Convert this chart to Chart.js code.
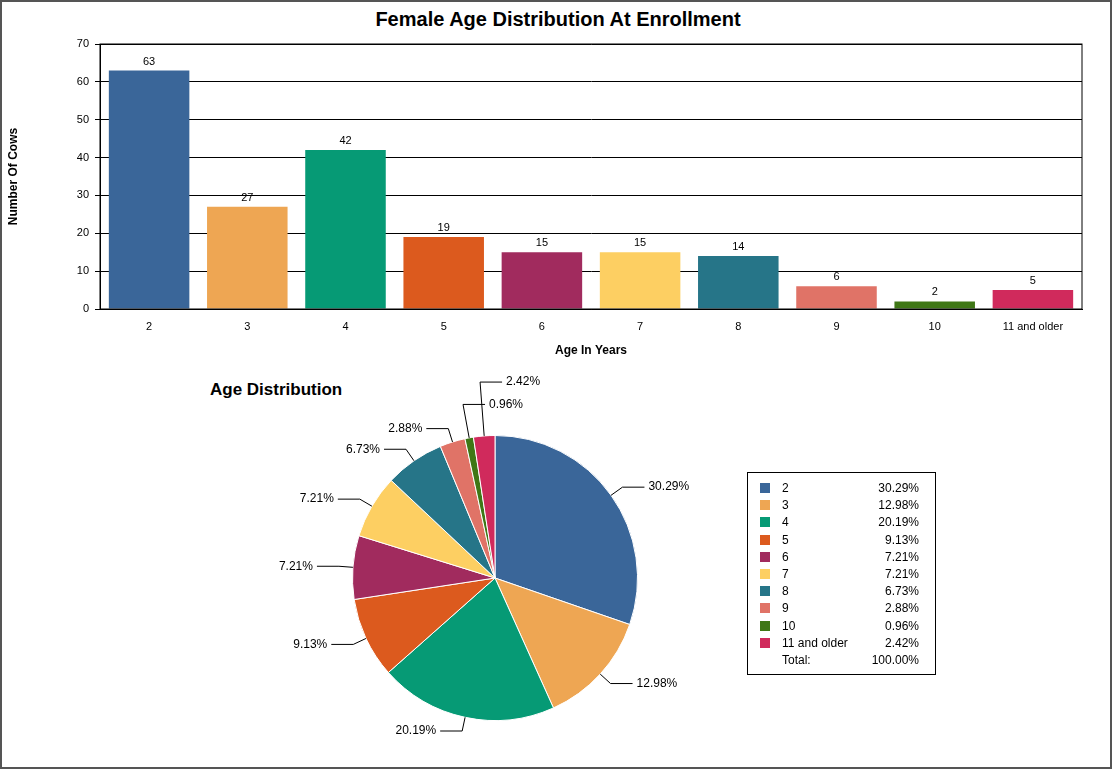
<!DOCTYPE html>
<html>
<head>
<script src="https://cdn.jsdelivr.net/npm/chart.js@4/dist/chart.umd.min.js"></script>
<style>
  body { margin:0; font-family:"Liberation Sans", Arial, sans-serif; background:#fff; }
  #page { position:relative; width:1108px; height:765px; border:2px solid #555; overflow:hidden; }
  #title { position:absolute; left:0; width:1112px; top:6px; text-align:center; font-weight:bold; font-size:20px; }
  #pieTitle { position:absolute; left:208px; top:378px; font-weight:bold; font-size:17px; }
  #barWrap { position:absolute; left:0; top:0; width:1112px; height:360px; }
  #pieWrap { position:absolute; left:200px; top:360px; width:600px; height:409px; }
  #legend { position:absolute; left:745px; top:470px; width:187px; border:1px solid #000; padding:8px 0 4px 0; font-size:12px; }
  #legend div { height:17.2px; position:relative; }
  #legend .sw { position:absolute; left:12px; top:2px; width:10px; height:10px; }
  #legend .nm { position:absolute; left:34px; }
  #legend .pc { position:absolute; right:16px; }
</style>
</head>
<body>
<div id="page">
  <div id="title">Female Age Distribution At Enrollment</div>
  <div id="barWrap"><canvas id="bar"></canvas></div>
  <div id="pieTitle">Age Distribution</div>
  <div id="pieWrap"><canvas id="pie"></canvas></div>
  <div id="legend"></div>
</div>
<script>
const ages = ['2','3','4','5','6','7','8','9','10','11 and older'];
const cows = [63, 27, 42, 19, 15, 15, 14, 6, 2, 5];
const percents = [30.29, 12.98, 20.19, 9.13, 7.21, 7.21, 6.73, 2.88, 0.96, 2.42];
const colors = ['#3a6699','#eea653','#069a75','#dc5a1e','#a12b5e','#fdcf62','#267588','#e07367','#3f7716','#d02a5c'];

const FONT = '"Liberation Sans", Arial, sans-serif';
Chart.defaults.font.family = FONT;
Chart.defaults.color = '#000';

// legend
let lg = document.getElementById('legend');
ages.forEach(function(a, i) {
  lg.innerHTML += '<div><span class="sw" style="background:' + colors[i] + '"></span><span class="nm">' + a +
    '</span><span class="pc">' + percents[i].toFixed(2) + '%</span></div>';
});
lg.innerHTML += '<div><span class="nm">Total:</span><span class="pc">100.00%</span></div>';

const barExtras = {
  id: 'barExtras',
  afterDatasetsDraw(chart) {
    const ctx = chart.ctx, a = chart.chartArea;
    ctx.save();
    ctx.strokeStyle = '#000';
    ctx.lineWidth = 1;
    ctx.strokeRect(a.left, a.top, a.right - a.left, a.bottom - a.top);
    ctx.font = '11px ' + FONT;
    ctx.fillStyle = '#000';
    ctx.textAlign = 'center';
    chart.getDatasetMeta(0).data.forEach(function(bar, i) {
      ctx.fillText(cows[i], bar.x, bar.y - 6);
    });
    ctx.restore();
  }
};

new Chart(document.getElementById('bar'), {
  type: 'bar',
  data: { labels: ages, datasets: [{ data: cows, backgroundColor: colors, categoryPercentage: 0.82, barPercentage: 1 }] },
  options: {
    responsive: true, maintainAspectRatio: false, animation: false,
    layout: { padding: { top: 42, right: 32, left: 0, bottom: 0 } },
    plugins: { legend: { display: false }, tooltip: { enabled: false } },
    scales: {
      x: {
        grid: { display: false },
        border: { color: '#000' },
        ticks: { font: { size: 11 }, color: '#000' },
        title: { display: true, text: 'Age In Years', font: { size: 12, weight: 'bold' }, padding: { top: 8 } },
        afterFit(s) { s.height = 53; }
      },
      y: {
        min: 0, max: 70,
        ticks: { stepSize: 10, font: { size: 11 }, color: '#000', padding: 6 },
        grid: { color: '#000', tickLength: 5, drawTicks: true },
        border: { color: '#000' },
        title: { display: true, text: 'Number Of Cows', font: { size: 12, weight: 'bold' } },
        afterFit(s) { s.width = 98; }
      }
    }
  },
  plugins: [barExtras]
});

const pieLabels = {
  id: 'pieLabels',
  afterDatasetsDraw(chart) {
    const ctx = chart.ctx;
    ctx.save();
    ctx.font = '12px ' + FONT;
    ctx.strokeStyle = '#000';
    ctx.fillStyle = '#000';
    ctx.lineWidth = 1;
    let k = 0;
    chart.getDatasetMeta(0).data.forEach(function(arc, i) {
      const mid = (arc.startAngle + arc.endAngle) / 2;
      const cx = arc.x, cy = arc.y, r = arc.outerRadius;
      const c = Math.cos(mid), s = Math.sin(mid);
      let extra = 14;
      let right = c >= 0;
      if (Math.abs(c) < 0.35 && s < 0) { extra = 14 + k * 20; k++; right = i >= ages.length - 2; }
      const x0 = cx + c * r, y0 = cy + s * r;
      const x1 = cx + c * (r + extra), y1 = cy + s * (r + extra);
      const x2 = x1 + (right ? 22 : -22);
      ctx.beginPath();
      ctx.moveTo(x0, y0); ctx.lineTo(x1, y1); ctx.lineTo(x2, y1);
      ctx.stroke();
      ctx.textAlign = right ? 'left' : 'right';
      ctx.textBaseline = 'middle';
      ctx.fillText(percents[i].toFixed(2) + '%', x2 + (right ? 4 : -4), y1);
    });
    ctx.restore();
  }
};

new Chart(document.getElementById('pie'), {
  type: 'pie',
  data: { labels: ages, datasets: [{ data: percents, backgroundColor: colors, borderColor: '#fff', borderWidth: 1 }] },
  options: {
    responsive: true, maintainAspectRatio: false, animation: false,
    layout: { padding: { left: 150, right: 164, top: 73, bottom: 50 } },
    plugins: { legend: { display: false }, tooltip: { enabled: false } }
  },
  plugins: [pieLabels]
});
</script>
</body>
</html>
